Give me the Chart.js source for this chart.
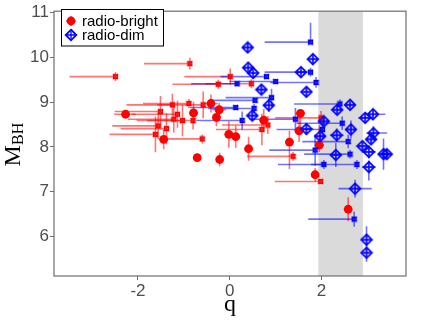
<!DOCTYPE html>
<html><head><meta charset="utf-8">
<script src="https://cdn.jsdelivr.net/npm/chart.js@4.4.1/dist/chart.umd.min.js"></script>
<style>html,body{margin:0;padding:0;background:#fff;}</style>
</head><body>
<canvas id="c" width="432" height="324"></canvas>
<script>
// ---- labels / axes ----
const seriesNames = ['radio-bright', 'radio-dim'];
const xTitle = 'q';
const yTitleMain = 'M';
const yTitleSub = 'BH';
const xTicks = [-2, 0, 2];
const yTicks = [6, 7, 8, 9, 10, 11];
const xRange = [-3.83, 3.84];
const yRange = [5.12, 11.03];
const bandRange = [1.93, 2.90];

// ---- radio-bright detections (filled circles) ----
const brightQ = [-2.27,-1.44,-0.79,-0.41,-0.23,-0.29,-0.02,0.13,0.41,-0.71,-0.22,0.74,1.54,1.51,1.30,1.95,1.86,2.58];
const brightM = [8.73,8.17,8.76,8.97,8.83,8.66,8.28,8.23,7.96,7.76,7.72,8.60,8.75,8.36,8.11,8.04,7.38,6.61];
const brightQErr = [[0.25,0.22],[0.1,0.1],[0.1,0.1],[0.15,0.15],[0.15,0.15],[0.1,0.1],[0.1,0.1],[0.1,0.1],[0.1,0.1],[0.05,0.05],[0.05,0.05],[0.1,0.1],[0.1,0.1],[0.1,0.1],[0.1,0.1],[0.1,0.1],[0.05,0.05],[0.05,0.05]];
const brightMErr = [[0.05,0.05],[0.22,0.22],[0.25,0.25],[0.2,0.2],[0.15,0.15],[0.2,0.2],[0.3,0.3],[0.25,0.25],[0.27,0.27],[0.05,0.05],[0.15,0.15],[0.25,0.25],[0.38,0.05],[0.25,0.3],[0.6,0.25],[0.15,0.45],[0.15,0.15],[0.27,0.27]];

// ---- radio-bright limits (small crossed squares) ----
const brightLimQ = [-2.49,-0.87,0.01,-0.25,0.47,-1.25,-0.89,-0.58,-1.51,-1.14,-1.22,-1.03,-0.80,-1.56,-1.38,-1.62,-0.60,0.83,0.70,1.38,1.98,1.99];
const brightLimM = [9.57,9.86,9.57,9.40,9.41,8.94,8.97,8.94,8.79,8.73,8.62,8.59,8.59,8.47,8.41,8.28,8.18,8.49,8.39,7.79,7.23,8.65];
const brightLimQErr = [[1,0],[1,0],[1,0],[1,0],[1,0],[1,0],[1,0],[1,0],[1,0],[1,0],[1,0],[1,0],[1,0],[1,0],[1,0],[1,0],[0.85,0],[1,0],[1,0],[1,0],[1,0],[1,0]];
const brightLimMErr = [[0.1,0.1],[0.13,0.13],[0.18,0.18],[0.1,0.1],[0.1,0.1],[0.25,0.25],[0.1,0.1],[0.3,0.3],[0.35,0.35],[0.3,0.3],[0.3,0.3],[0.35,0.35],[0.2,0.2],[0.3,0.3],[0.35,0.35],[0.4,0.4],[0.1,0.1],[0.2,0.2],[0.35,0.35],[0.1,0.1],[0.05,0.05],[0.15,0.15]];

// ---- radio-dim detections (diamonds) ----
const dimQ = [0.39,1.81,0.40,0.51,1.55,0.69,1.67,0.85,0.49,2.34,2.62,2.05,1.67,2.95,3.12,2.33,2.64,3.13,3.08,1.97,2.89,2.31,3.03,3.35,3.42,3.03,2.73,2.98,2.98];
const dimM = [10.22,9.96,9.77,9.65,9.67,9.28,9.23,8.93,8.70,8.83,8.94,8.57,8.40,8.65,8.73,8.26,8.39,8.31,8.17,8.24,8.02,7.82,7.89,7.84,7.84,7.55,7.07,5.93,5.64];
const dimQErr = [[0.1,0.1],[0.05,0.05],[0.1,0.1],[0.05,0.05],[0.1,0.1],[0.1,0.1],[0.05,0.05],[0.1,0.1],[0.1,0.1],[0.1,0.1],[0.1,0.1],[0.1,0.1],[0.15,0.15],[0.15,0.15],[0.1,0.27],[0.15,0.15],[0.1,0.1],[0.15,0.3],[0.1,0.1],[0.1,0.1],[0.1,0.1],[0.1,0.1],[0.15,0.15],[0.1,0.1],[0.1,0.1],[0.15,0.15],[0.36,0.36],[0.05,0.05],[0.05,0.05]];
const dimMErr = [[0.1,0.1],[0.12,0.12],[0.05,0.05],[0.05,0.05],[0.05,0.05],[0.1,0.1],[0.1,0.1],[0.15,0.15],[0.1,0.1],[0.1,0.1],[0.05,0.05],[0.1,0.1],[0.1,0.1],[0.1,0.1],[0.1,0.1],[0.15,0.15],[0.2,0.2],[0.15,0.15],[0.1,0.1],[0.2,0.2],[0.1,0.1],[0.27,0.27],[0.15,0.15],[0.35,0.35],[0.1,0.1],[0.3,0.15],[0.2,0.2],[0.13,0.3],[0.2,0.2]];

// ---- radio-dim limits (small crossed squares) ----
const dimLimQ = [1.76,1.76,0.80,1.88,1.00,0.16,0.91,0.55,0.13,0.53,2.40,0.27,1.43,2.45,2.02,2.58,1.86,2.62,2.05,2.77,2.71];
const dimLimM = [10.34,9.67,9.57,9.44,9.46,9.41,9.10,9.04,8.88,8.86,8.96,8.59,8.62,8.53,8.39,8.12,7.93,7.84,7.61,7.61,6.39];
const dimLimQErr = [[1,0],[1,0],[1,0],[1,0],[1,0],[1,0],[1,0],[1,0],[1,0],[1,0],[1,0],[1,0],[1,0],[1,0],[1,0],[1,0],[1,0],[1,0],[1,0],[1,0],[1,0]];
const dimLimMErr = [[0.03,0.43],[0.1,0.1],[0.05,0.05],[0.12,0.12],[0.05,0.05],[0.05,0.05],[0.2,0.2],[0.05,0.05],[0.05,0.05],[0.1,0.1],[0.1,0.1],[0.2,0.2],[0.25,0.25],[0.15,0.15],[0.2,0.2],[0.15,0.15],[0.35,0.35],[0.1,0.1],[0.1,0.1],[0.1,0.1],[0.17,0.17]];

// ---- marker images ----
const RED = '#ff0000', BLUE = '#0000ff';
function diamondPlus(color){
  const c = document.createElement('canvas'); c.width = 14; c.height = 14;
  const g = c.getContext('2d'); const m = 7, r = 5.3;
  g.strokeStyle = color; g.lineWidth = 1.8;
  g.beginPath(); g.moveTo(m, m-r); g.lineTo(m+r, m); g.lineTo(m, m+r); g.lineTo(m-r, m); g.closePath(); g.stroke();
  g.lineWidth = 1.3;
  g.beginPath(); g.moveTo(m-r, m); g.lineTo(m+r, m); g.moveTo(m, m-r); g.lineTo(m, m+r); g.stroke();
  return c;
}
function boxX(color){
  const c = document.createElement('canvas'); c.width = 7; c.height = 7;
  const g = c.getContext('2d');
  g.strokeStyle = color; g.lineWidth = 1.2;
  g.strokeRect(1.5, 1.5, 4, 4);
  g.beginPath(); g.moveTo(1, 1); g.lineTo(6, 6); g.moveTo(6, 1); g.lineTo(1, 6); g.stroke();
  return c;
}
const diamondImg = diamondPlus(BLUE);
const redBox = boxX(RED), blueBox = boxX(BLUE);

const pts = (qs, ms) => qs.map((q, i) => ({x: q, y: ms[i]}));

const datasets = [
  {label: seriesNames[0], data: pts(brightQ, brightM), errQ: brightQErr, errM: brightMErr,
   errColor: 'rgba(255,0,0,0.55)', pointStyle: 'circle', pointRadius: 4.4, backgroundColor: RED, borderWidth: 0, order: 1},
  {label: seriesNames[0] + ' limit', data: pts(brightLimQ, brightLimM), errQ: brightLimQErr, errM: brightLimMErr,
   errColor: 'rgba(255,0,0,0.55)', pointStyle: redBox, pointRadius: 3, order: 2},
  {label: seriesNames[1], data: pts(dimQ, dimM), errQ: dimQErr, errM: dimMErr,
   errColor: 'rgba(0,0,255,0.55)', pointStyle: diamondImg, pointRadius: 6, order: 0},
  {label: seriesNames[1] + ' limit', data: pts(dimLimQ, dimLimM), errQ: dimLimQErr, errM: dimLimMErr,
   errColor: 'rgba(0,0,255,0.55)', pointStyle: blueBox, pointRadius: 3, order: 0}
];

const decor = {
  id: 'decor',
  beforeDatasetsDraw(chart){
    const {ctx, chartArea: a, scales: {x, y}} = chart;
    ctx.save();
    ctx.beginPath(); ctx.rect(a.left, a.top, a.width, a.height); ctx.clip();
    const b0 = x.getPixelForValue(bandRange[0]), b1 = x.getPixelForValue(bandRange[1]);
    ctx.fillStyle = '#dadada';
    ctx.fillRect(b0, a.top, b1 - b0, a.height);
    ctx.lineWidth = 1.6;
    chart.data.datasets.forEach(ds => {
      ctx.strokeStyle = ds.errColor;
      ds.data.forEach((p, i) => {
        const px = x.getPixelForValue(p.x), py = y.getPixelForValue(p.y);
        const eq = ds.errQ[i], em = ds.errM[i];
        ctx.beginPath();
        if (eq[0] + eq[1] > 0) { ctx.moveTo(x.getPixelForValue(p.x - eq[0]), py); ctx.lineTo(x.getPixelForValue(p.x + eq[1]), py); }
        if (em[0] + em[1] > 0) { ctx.moveTo(px, y.getPixelForValue(p.y - em[0])); ctx.lineTo(px, y.getPixelForValue(p.y + em[1])); }
        ctx.stroke();
      });
    });
    ctx.restore();
  },
  afterDraw(chart){
    const {ctx, chartArea: a} = chart;
    ctx.save();
    // frame
    ctx.strokeStyle = '#6e6e6e'; ctx.lineWidth = 1.2;
    ctx.strokeRect(a.left, a.top, a.width, a.height);
    // x title
    ctx.fillStyle = '#000';
    ctx.font = '24px "Liberation Serif"'; ctx.textAlign = 'center'; ctx.textBaseline = 'alphabetic';
    ctx.fillText(xTitle, (a.left + a.right) / 2, 311);
    // y title with subscript
    ctx.translate(20, (a.top + a.bottom) / 2 + 1);
    ctx.rotate(-Math.PI / 2);
    ctx.textAlign = 'left';
    ctx.font = '24px "Liberation Serif"'; const wM = ctx.measureText(yTitleMain).width;
    ctx.font = '16px "Liberation Serif"'; const wS = ctx.measureText(yTitleSub).width;
    const sx = -(wM + wS) / 2;
    ctx.font = '24px "Liberation Serif"'; ctx.fillText(yTitleMain, sx, 0);
    ctx.font = '16px "Liberation Serif"'; ctx.fillText(yTitleSub, sx + wM, 3);
    ctx.restore();
    // legend
    ctx.save();
    const lx = 61.5, ly = 9.5, lw = 102, lh = 36.5;
    ctx.fillStyle = '#fff'; ctx.fillRect(lx, ly, lw, lh);
    ctx.strokeStyle = '#000'; ctx.lineWidth = 1; ctx.strokeRect(lx, ly, lw, lh);
    // red key
    ctx.strokeStyle = 'rgba(255,0,0,0.6)'; ctx.lineWidth = 1.6;
    ctx.beginPath(); ctx.moveTo(71, 16); ctx.lineTo(71, 26); ctx.moveTo(66, 21); ctx.lineTo(76, 21); ctx.stroke();
    ctx.fillStyle = RED; ctx.beginPath(); ctx.arc(71, 21, 4.4, 0, Math.PI * 2); ctx.fill();
    // blue key
    ctx.drawImage(diamondImg, 71 - 7, 35 - 7);
    ctx.fillStyle = '#000'; ctx.font = '15px "Liberation Sans"'; ctx.textBaseline = 'middle'; ctx.textAlign = 'left';
    ctx.fillText(seriesNames[0], 82, 21.5);
    ctx.fillText(seriesNames[1], 82, 35.5);
    ctx.restore();
  }
};

const tickFont = {family: '"Liberation Sans"', size: 17};
new Chart(document.getElementById('c'), {
  type: 'scatter',
  data: {datasets},
  options: {
    responsive: false, animation: false, devicePixelRatio: 1,
    layout: {padding: {top: 4, right: 26, bottom: 0, left: 0}},
    plugins: {legend: {display: false}, tooltip: {enabled: false}},
    scales: {
      x: {
        type: 'linear', min: xRange[0], max: xRange[1],
        afterBuildTicks: s => { s.ticks = xTicks.map(v => ({value: v})); },
        afterFit: s => { s.height = 48; },
        grid: {display: true, drawOnChartArea: false, drawTicks: true, tickLength: 4, color: '#6e6e6e'},
        border: {display: false},
        ticks: {font: tickFont, color: '#4d4d4d', padding: 1, maxRotation: 0}
      },
      y: {
        type: 'linear', min: yRange[0], max: yRange[1],
        afterBuildTicks: s => { s.ticks = yTicks.map(v => ({value: v})); },
        afterFit: s => { s.width = 54; },
        grid: {display: true, drawOnChartArea: false, drawTicks: true, tickLength: 4, color: '#6e6e6e'},
        border: {display: false},
        ticks: {font: tickFont, color: '#4d4d4d', padding: 1}
      }
    }
  },
  plugins: [decor]
});
</script>
</body></html>
